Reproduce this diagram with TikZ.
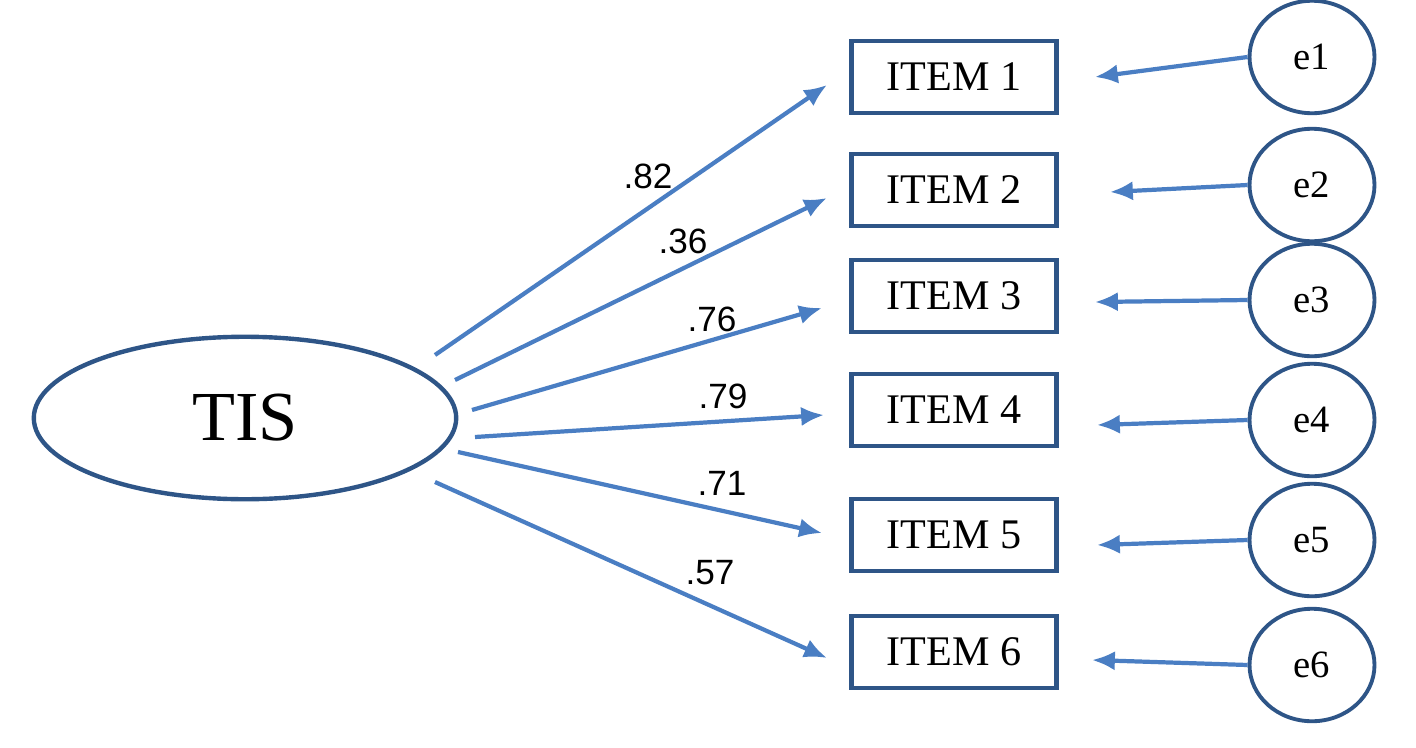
\documentclass[tikz,border=0pt]{standalone}
\usepackage{fontspec}
\setmainfont{Liberation Serif}
\newfontfamily\lab{Liberation Sans}
\usetikzlibrary{arrows.meta,shapes.geometric}
\definecolor{bord}{HTML}{2E5587}
\definecolor{arr}{HTML}{4A7EC3}
\begin{document}
\begin{tikzpicture}[x=0.02cm,y=-0.02cm,
 itembox/.style={draw=bord,line width=2.5pt,minimum width=4.1cm,minimum height=1.45cm,font=\fontsize{24}{27}\selectfont},
 errnode/.style={draw=bord,line width=2.2pt,ellipse,minimum width=2.5cm,minimum height=2.25cm,font=\fontsize{22}{25}\selectfont},
 conn/.style={draw=arr,line width=2.4pt,-{Latex[length=13pt,width=11pt]}},
 wlab/.style={font=\lab\fontsize{20}{23}\selectfont}]
\useasboundingbox (0,0) rectangle (1416,747);
\node[draw=bord,line width=2.5pt,ellipse,minimum width=8.45cm,minimum height=3.25cm,font=\fontsize{40}{44}\selectfont] (tis) at (245,418) {TIS};
\foreach \i/\y in {1/77,2/190,3/296,4/410,5/535,6/652}{
 \node[itembox] (it\i) at (954,\y) {ITEM \i};}
\foreach \i/\y in {1/57,2/185,3/300,4/420,5/540,6/665}{
 \node[errnode] (e\i) at (1312,\y) {e\i};}
\coordinate (s1) at (435,355); \coordinate (t1) at (827,85);
\coordinate (s2) at (455,380); \coordinate (t2) at (827,198);
\coordinate (s3) at (472,410); \coordinate (t3) at (822,308);
\coordinate (s4) at (475,437); \coordinate (t4) at (824,415);
\coordinate (s5) at (458,452); \coordinate (t5) at (822,533);
\coordinate (s6) at (435,482); \coordinate (t6) at (827,658);
\foreach \i in {1,...,6}{\draw[conn] (s\i) -- (t\i);}
\coordinate (u1) at (1095,77); \coordinate (u2) at (1110,192); \coordinate (u3) at (1095,302);
\coordinate (u4) at (1097,425); \coordinate (u5) at (1097,545); \coordinate (u6) at (1092,660);
\foreach \i in {1,...,6}{\draw[conn] (e\i.west) -- (u\i);}
\node[wlab] (l1) at (648,176) {.82};
\node[wlab] (l2) at (683,241) {.36};
\node[wlab] (l3) at (712,319) {.76};
\node[wlab] (l4) at (723,396) {.79};
\node[wlab] (l5) at (722,483) {.71};
\node[wlab] (l6) at (710,573) {.57};
\end{tikzpicture}
\end{document}
